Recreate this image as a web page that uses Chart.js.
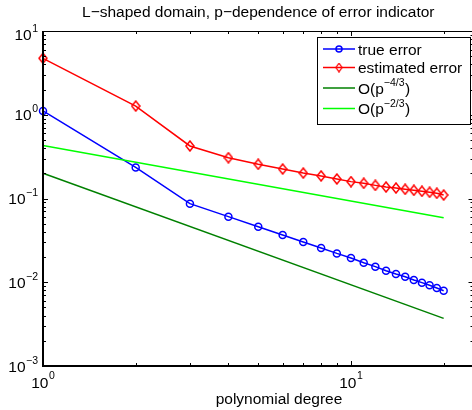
<!DOCTYPE html>
<html lang="en">
<head>
<meta charset="UTF-8">
<title>L-shaped domain, p-dependence of error indicator</title>
<script src="https://cdn.jsdelivr.net/npm/chart.js@4.4.1/dist/chart.umd.min.js"></script>
<style>
  html, body { margin: 0; padding: 0; background: #fff; overflow: hidden; }
  canvas { display: block; }
</style>
</head>
<body>
<canvas id="grafico" width="480" height="410"></canvas>
<script>
// values
const degrees = [1, 2, 3, 4, 5, 6, 7, 8, 9, 10, 11, 12, 13, 14, 15, 16, 17, 18, 19, 20];
const trueError = [1.11, 0.235, 0.0867, 0.0607, 0.046, 0.0366, 0.0303, 0.0257, 0.0221, 0.0195,
                   0.0171, 0.01535, 0.01374, 0.01256, 0.01165, 0.01064, 0.00989, 0.0092, 0.00854, 0.00792];
const estError = [4.72, 1.27, 0.424, 0.307, 0.256, 0.225, 0.201, 0.186, 0.171, 0.159,
                  0.152, 0.1435, 0.137, 0.1333, 0.1288, 0.1253, 0.1219, 0.1186, 0.1154, 0.110];
const refDegrees = [1, 20];
const ref43 = [0.2, 0.0037];
const ref23 = [0.43, 0.059];

const xTickExps = [0, 1];
const yTickExps = [1, 0, -1, -2, -3];
const legendLabels = ['true error', 'estimated error', 'O(p^{−4/3})', 'O(p^{−2/3})'];

const FONT = '"Liberation Sans", Arial, Helvetica, sans-serif';

function pontos(xs, ys) {
    return xs.map(function (x, i) { return { x: x, y: ys[i] }; });
}

// matlab-like diamond, a bit taller than wide
function criarLosango(cor) {
    var c = document.createElement('canvas');
    c.width = 10;
    c.height = 12;
    var g = c.getContext('2d');
    g.strokeStyle = cor;
    g.lineWidth = 1.5;
    g.beginPath();
    g.moveTo(5, 1);
    g.lineTo(9, 6);
    g.lineTo(5, 11);
    g.lineTo(1, 6);
    g.closePath();
    g.stroke();
    return c;
}
const losangoVermelho = criarLosango('#ff0000');

function desenharPotencia(ctx, exp, x, baseline, align, supRaise) {
    var base = '10';
    var sup = String(exp).replace('-', '−');
    ctx.font = '15.5px ' + FONT;
    var bw = ctx.measureText(base).width;
    ctx.font = '10.5px ' + FONT;
    var sw = ctx.measureText(sup).width;
    var x0 = align === 'right' ? x - bw - sw - 0.5 : x - (bw + sw + 0.5) / 2;
    ctx.textAlign = 'left';
    ctx.textBaseline = 'alphabetic';
    ctx.fillStyle = '#000';
    ctx.font = '15.5px ' + FONT;
    ctx.fillText(base, x0, baseline);
    ctx.font = '10.5px ' + FONT;
    ctx.fillText(sup, x0 + bw + 0.5, baseline - supRaise);
}

// text with ^{...} superscript parts
function desenharRotulo(ctx, label, x, baseline) {
    var partes = label.split(/\^\{|\}/);
    var cx = x;
    ctx.textAlign = 'left';
    ctx.textBaseline = 'alphabetic';
    ctx.fillStyle = '#000';
    for (var i = 0; i < partes.length; i++) {
        var sup = i % 2 === 1;
        ctx.font = (sup ? '10.5px ' : '15.5px ') + FONT;
        ctx.fillText(partes[i], cx, sup ? baseline - 7.5 : baseline);
        cx += ctx.measureText(partes[i]).width + (sup ? 0.5 : 0);
    }
}

const eixosMatlab = {
    id: 'eixosMatlab',
    afterDraw: function (chart) {
        var ctx = chart.ctx;
        var a = chart.chartArea;
        var xs = chart.scales.x;
        var ys = chart.scales.y;
        ctx.save();

        // box
        ctx.strokeStyle = '#000';
        ctx.lineWidth = 1;
        ctx.beginPath();
        ctx.moveTo(a.left, a.top + 0.5);
        ctx.lineTo(a.right, a.top + 0.5);
        ctx.lineTo(a.right, a.bottom);
        ctx.stroke();
        ctx.lineWidth = 2;
        ctx.beginPath();
        ctx.moveTo(a.left, a.top);
        ctx.lineTo(a.left, a.bottom);
        ctx.lineTo(a.right, a.bottom);
        ctx.stroke();

        // ticks, inside
        ctx.lineWidth = 1;
        var k, m, v, p, len;
        for (k = -1; k <= 2; k++) {
            for (m = 1; m <= 9; m++) {
                v = m * Math.pow(10, k);
                if (v < xs.min || v > xs.max) continue;
                p = Math.round(xs.getPixelForValue(v)) + 0.5;
                len = m === 1 ? 5 : 3;
                ctx.beginPath();
                ctx.moveTo(p, a.bottom);
                ctx.lineTo(p, a.bottom - len);
                ctx.moveTo(p, a.top);
                ctx.lineTo(p, a.top + len);
                ctx.stroke();
            }
        }
        for (k = -3; k <= 1; k++) {
            for (m = 1; m <= 9; m++) {
                v = m * Math.pow(10, k);
                if (v < ys.min * 0.999 || v > ys.max * 1.001) continue;
                p = Math.round(ys.getPixelForValue(v)) + 0.5;
                len = m === 1 ? 5 : 3;
                ctx.beginPath();
                ctx.moveTo(a.left, p);
                ctx.lineTo(a.left + len, p);
                ctx.moveTo(a.right, p);
                ctx.lineTo(a.right - len, p);
                ctx.stroke();
            }
        }

        // tick labels
        xTickExps.forEach(function (e) {
            desenharPotencia(ctx, e, xs.getPixelForValue(Math.pow(10, e)), a.bottom + 22, 'center', 9.5);
        });
        yTickExps.forEach(function (e) {
            var py = ys.getPixelForValue(Math.pow(10, e));
            if (e === 1) py += 3;
            desenharPotencia(ctx, e, a.left - 5, py + 5.5, 'right', 8);
        });

        // axis title
        ctx.font = '15.5px ' + FONT;
        ctx.fillStyle = '#000';
        ctx.textAlign = 'center';
        ctx.textBaseline = 'alphabetic';
        ctx.fillText('polynomial degree', 279, a.bottom + 37.5);

        // legend
        var lx = 317, ly = 37, lw = 153, lh = 87;
        ctx.fillStyle = '#fff';
        ctx.fillRect(lx, ly, lw, lh);
        ctx.strokeStyle = '#000';
        ctx.lineWidth = 1;
        ctx.strokeRect(lx + 0.5, ly + 0.5, lw, lh);
        var linhas = [49, 67.5, 88, 108.5];
        chart.data.datasets.forEach(function (ds, i) {
            var y = linhas[i];
            ctx.strokeStyle = ds.borderColor;
            ctx.lineWidth = ds.borderWidth;
            ctx.beginPath();
            ctx.moveTo(323, y);
            ctx.lineTo(355, y);
            ctx.stroke();
            if (ds.pointStyle === 'circle') {
                ctx.lineWidth = 1.5;
                ctx.beginPath();
                ctx.arc(339, y, 3, 0, Math.PI * 2);
                ctx.stroke();
            } else if (ds.pointStyle) {
                ctx.drawImage(ds.pointStyle, 339 - 4, y - 5, 8, 10);
            }
            desenharRotulo(ctx, legendLabels[i], 358, y + 5.5);
        });

        ctx.restore();
    }
};

const ctx = document.getElementById('grafico').getContext('2d');
const grafico = new Chart(ctx, {
    type: 'line',
    data: {
        datasets: [{
            label: legendLabels[0],
            data: pontos(degrees, trueError),
            borderColor: '#0000ff',
            borderWidth: 1.5,
            pointStyle: 'circle',
            pointRadius: 3.5,
            pointBorderWidth: 1.5,
            pointBorderColor: '#0000ff',
            pointBackgroundColor: 'rgba(0,0,0,0)',
            order: 4,
            clip: false
        }, {
            label: legendLabels[1],
            data: pontos(degrees, estError),
            borderColor: '#ff0000',
            borderWidth: 1.5,
            pointStyle: losangoVermelho,
            pointRadius: 5,
            order: 3,
            clip: false
        }, {
            label: legendLabels[2],
            data: pontos(refDegrees, ref43),
            borderColor: '#008000',
            borderWidth: 1.5,
            pointRadius: 0,
            order: 2,
            clip: false
        }, {
            label: legendLabels[3],
            data: pontos(refDegrees, ref23),
            borderColor: '#00ff00',
            borderWidth: 1.5,
            pointRadius: 0,
            order: 1,
            clip: false
        }]
    },
    options: {
        responsive: false,
        animation: false,
        events: [],
        layout: { padding: { left: 0, right: 1, top: 0, bottom: 0 } },
        scales: {
            x: {
                type: 'logarithmic',
                min: 1,
                max: 25,
                grid: { display: false },
                border: { display: false },
                ticks: { display: false },
                afterFit: function (s) { s.height = 44; }
            },
            y: {
                type: 'logarithmic',
                min: 0.001,
                max: 10,
                grid: { display: false },
                border: { display: false },
                ticks: { display: false },
                afterFit: function (s) { s.width = 43; }
            }
        },
        plugins: {
            legend: { display: false },
            tooltip: { enabled: false },
            title: {
                display: true,
                fullSize: false,
                text: 'L−shaped domain, p−dependence of error indicator',
                color: '#000',
                font: { family: FONT, size: 15.5, weight: 'normal' },
                padding: { top: 3.5, bottom: 8.9 }
            }
        }
    },
    plugins: [eixosMatlab]
});
</script>
</body>
</html>
